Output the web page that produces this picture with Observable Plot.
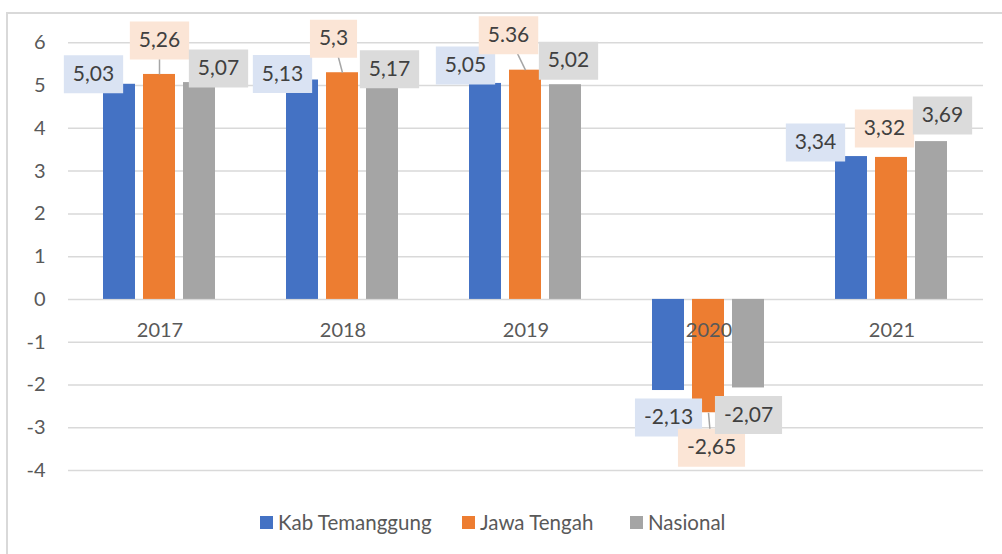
<!DOCTYPE html>
<html>
<head>
<meta charset="utf-8">
<script src="https://cdn.jsdelivr.net/npm/d3@7"></script>
<script src="https://cdn.jsdelivr.net/npm/@observablehq/plot@0.6"></script>
<style>
  html, body { margin: 0; padding: 0; background: #fff; overflow: hidden; }
  #wrap { position: relative; width: 1002px; height: 554px; }
  #frame { position: absolute; left: 6px; top: 12px; width: 1100px; height: 700px; border: 2px solid #d9d9d9; box-sizing: border-box; }
  #chart { position: absolute; left: 0; top: 0; }
  #legend { position: absolute; left: 0; top: 510px; width: 1002px; height: 26px; font-family: Lato, sans-serif; font-size: 20.5px; color: #595959; }
  .item { position: absolute; top: 0; display: flex; align-items: center; white-space: nowrap; }
  .sw { width: 13px; height: 13px; margin-right: 5px; }
</style>
</head>
<body>
<div id="wrap">
  <div id="frame"></div>
  <div id="chart"></div>
  <div id="legend"></div>
</div>
<script>
// ---- data ----
const years = ["2017", "2018", "2019", "2020", "2021"];
const series = ["Kab Temanggung", "Jawa Tengah", "Nasional"];
const kabValues = [5.03, 5.13, 5.05, -2.13, 3.34];
const jatengValues = [5.26, 5.30, 5.36, -2.65, 3.32];
const nasionalValues = [5.07, 5.17, 5.02, -2.07, 3.69];
const kabLabels = ["5,03", "5,13", "5,05", "-2,13", "3,34"];
const jatengLabels = ["5,26", "5,3", "5.36", "-2,65", "3,32"];
const nasionalLabels = ["5,07", "5,17", "5,02", "-2,07", "3,69"];
const yTicks = [-4, -3, -2, -1, 0, 1, 2, 3, 4, 5, 6];

// ---- styles / label layout ----
const colors = ["#4472c4", "#ed7d31", "#a5a5a5"];
const labelBg = ["#dae3f3", "#fbe5d6", "#dbdbdb"];
const legendLeft = [260, 462, 630];
const kabOffsets = [[-26, -10], [-20, -6], [-20, -18], [0, 27], [-36, -14]];
const jatengOffsets = [[0, -34], [-9, -34], [-17, -35], [3, 35], [-7, -29]];
const nasionalOffsets = [[19, -14], [7, -9], [3, -24], [0, 27], [11, -26]];
const jatengLeader = [true, true, true, true, false];

const valuesBySeries = [kabValues, jatengValues, nasionalValues];
const labelsBySeries = [kabLabels, jatengLabels, nasionalLabels];
const offsetsBySeries = [kabOffsets, jatengOffsets, nasionalOffsets];
const leadersBySeries = [[false,false,false,false,false], jatengLeader, [false,false,false,false,false]];

const rows = [];
series.forEach((s, si) => {
  years.forEach((y, yi) => {
    rows.push({
      year: y, series: s, value: valuesBySeries[si][yi], label: labelsBySeries[si][yi],
      dx: offsetsBySeries[si][yi][0], dy: offsetsBySeries[si][yi][1],
      leader: leadersBySeries[si][yi], bg: labelBg[si]
    });
  });
});

const ctx = document.createElement("canvas").getContext("2d");
const labelFont = 21;
ctx.font = `${labelFont}px Lato`;

const labelMarks = [];
// leaders
rows.filter(r => r.leader).forEach(r => {
  labelMarks.push(Plot.dot([r], {
    fx: "year", x: "series", y: "value", r: 5,
    symbol: {draw(c) { c.moveTo(0, 0); c.lineTo(r.dx, r.dy); }},
    fill: "none", stroke: "#a6a6a6", strokeWidth: 1.5
  }));
});
// boxes + texts
rows.forEach(r => {
  const w = ctx.measureText(r.label).width + 18;
  const h = 38;
  labelMarks.push(Plot.dot([r], {
    fx: "year", x: "series", y: "value", r: 5,
    symbol: {draw(c) { c.rect(r.dx - w / 2, r.dy - h / 2, w, h); }},
    fill: r.bg, stroke: "none"
  }));
  labelMarks.push(Plot.text([r], {
    fx: "year", x: "series", y: "value", text: "label",
    dx: r.dx, dy: r.dy, fill: "#404040", fontSize: labelFont
  }));
});

const chart = Plot.plot({
  width: 1002,
  height: 554,
  marginLeft: 67,
  marginRight: 19,
  marginTop: 42.3,
  marginBottom: 84,
  style: {fontFamily: "Lato, sans-serif", fontSize: "20px", color: "#595959", background: "transparent"},
  fx: {domain: years, padding: 0, axis: null},
  x: {domain: series, paddingInner: 0.21, paddingOuter: 0.867, align: 0.485, axis: null},
  y: {domain: [-4, 6], ticks: yTicks, tickSize: 0, tickPadding: 23, tickFormat: d => String(d), label: null},
  color: {domain: series, range: colors},
  marks: [
    Plot.ruleY(yTicks, {stroke: "#d9d9d9", strokeWidth: 1.5}),
    Plot.barY(rows, {fx: "year", x: "series", y: "value", fill: "series"}),
    Plot.text(years, {fx: d => d, y: () => 0, text: d => d, dy: 31, fill: "#595959", fontSize: 20}),
    ...labelMarks
  ]
});
document.getElementById("chart").appendChild(chart);

const legend = document.getElementById("legend");
series.forEach((s, i) => {
  const item = document.createElement("div");
  item.className = "item";
  item.style.left = legendLeft[i] + "px";
  const sw = document.createElement("div");
  sw.className = "sw";
  sw.style.background = colors[i];
  const t = document.createElement("span");
  t.textContent = s;
  item.appendChild(sw);
  item.appendChild(t);
  legend.appendChild(item);
});
</script>
</body>
</html>
